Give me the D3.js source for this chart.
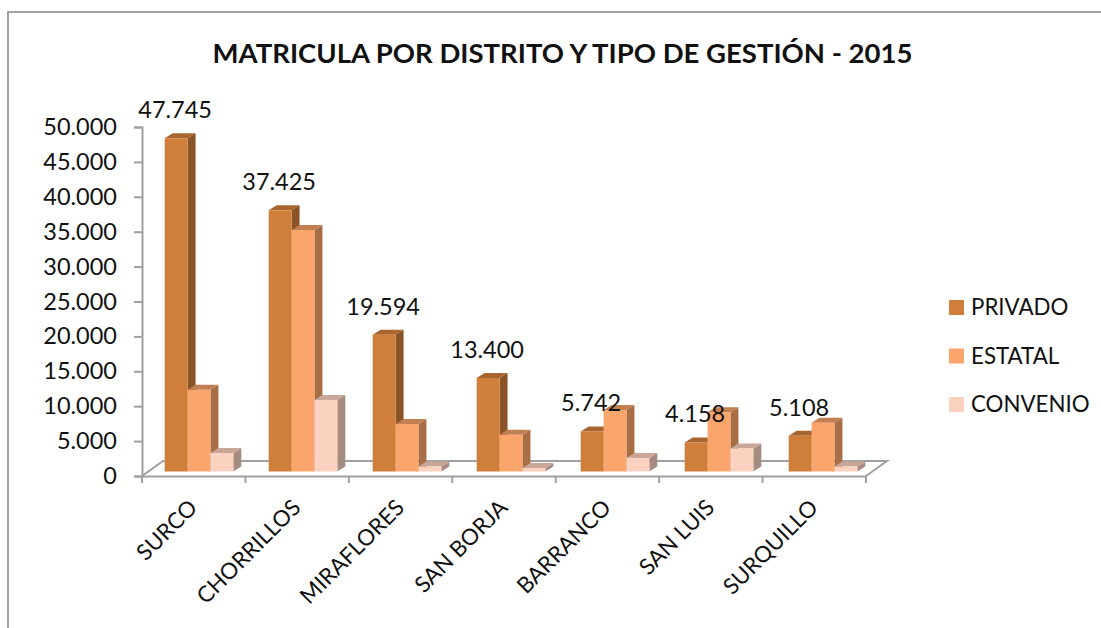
<!DOCTYPE html>
<html>
<head>
<meta charset="utf-8">
<script src="https://cdnjs.cloudflare.com/ajax/libs/d3/7.8.5/d3.min.js"></script>
<style>
    html, body { margin: 0; padding: 0; background: #fff; }
    text { font-family: Lato, "Open Sans", sans-serif; fill: #111; }
</style>
</head>
<body>
<div id="chart"></div>
<script>
var distritos = ["SURCO", "CHORRILLOS", "MIRAFLORES", "SAN BORJA", "BARRANCO", "SAN LUIS", "SURQUILLO"];
var seriesNames = ["PRIVADO", "ESTATAL", "CONVENIO"];
var privado = [47745, 37425, 19594, 13400, 5742, 4158, 5108];
var estatal = [11700, 34600, 6800, 5250, 8800, 8500, 7000];
var convenio = [2650, 10250, 700, 500, 1950, 3300, 700];
var yTicks = [0, 5000, 10000, 15000, 20000, 25000, 30000, 35000, 40000, 45000, 50000];

var titulo = "MATRICULA POR DISTRITO Y TIPO DE GESTIÓN - 2015";

var seriesValues = [privado, estatal, convenio];
var front = ["#d07f3a", "#faa56c", "#fbd2bf"];
var side = ["#8a5426", "#a86f45", "#a68c80"];
var topFace = ["#a8652e", "#c27f52", "#c9a698"];

var depthX = 8, depthY = 5, floorGap = 4.5;

var svg = d3.select("#chart")
    .append("svg")
    .attr("width", 1101)
    .attr("height", 628)
    .style("display", "block");

// frame, only left and top show in the picture
svg.append("path")
    .attr("d", "M8,628V12H1101")
    .attr("fill", "none")
    .attr("stroke", "#888")
    .attr("stroke-width", 1.6);

svg.append("text")
    .attr("x", 562.5)
    .attr("y", 63)
    .attr("text-anchor", "middle")
    .attr("font-size", 27.5)
    .attr("font-weight", 700)
    .text(titulo);

var y = d3.scaleLinear().domain([0, 50000]).range([476, 127]);
var xAxisScale = d3.scaleBand().domain(distritos).range([142, 866]);
var xGroup = d3.scaleBand().domain(distritos).range([147, 875]).paddingInner(0.34).paddingOuter(0.17);
var xBar = d3.scaleBand().domain(seriesNames).range([0, xGroup.bandwidth()]);

var es = d3.formatLocale({decimal: ",", thousands: ".", grouping: [3], currency: ["S/", ""]});
var fmt = es.format(",d");

// floor
var floorLeft = xAxisScale.range()[0], floorRight = xAxisScale.range()[1];
svg.append("path")
    .attr("d", "M" + floorLeft + "," + y(0) + "L" + (floorLeft + 21) + "," + (y(0) - 15) +
        "H" + (floorRight + 21) + "L" + floorRight + "," + y(0))
    .attr("fill", "none")
    .attr("stroke", "#a0a0a0")
    .attr("stroke-width", 2);

// y axis
var yAxis = svg.append("g")
    .attr("transform", "translate(" + floorLeft + ",0)")
    .call(d3.axisLeft(y).tickValues(yTicks).tickFormat(fmt).tickSize(8).tickPadding(17));
yAxis.selectAll("path, line").attr("stroke", "#a0a0a0").attr("stroke-width", 2);
yAxis.selectAll("text").attr("font-size", 23.5).attr("font-family", "Lato");

// x axis, ticks sit between the categories so they are drawn from the band edges
var xAxis = svg.append("g")
    .attr("transform", "translate(0," + y(0) + ")")
    .call(d3.axisBottom(xAxisScale).tickSize(0).tickPadding(0));
xAxis.select("path").attr("stroke", "#a0a0a0").attr("stroke-width", 2);
xAxis.selectAll("line").remove();
xAxis.selectAll("text")
    .attr("font-size", 22.3)
    .attr("font-family", "Lato")
    .attr("text-anchor", "end")
    .attr("dy", 0)
    .attr("y", 0)
    .attr("transform", "translate(5,33) rotate(-45)");

xAxis.selectAll(".edge")
    .data(distritos.concat(["fin"]))
    .enter()
    .append("line")
    .attr("class", "edge")
    .attr("x1", function(d) { return d === "fin" ? floorRight : xAxisScale(d); })
    .attr("x2", function(d) { return d === "fin" ? floorRight : xAxisScale(d); })
    .attr("y1", 0)
    .attr("y2", 7)
    .attr("stroke", "#a0a0a0")
    .attr("stroke-width", 2);

// bars, back to front per category so each side face gets covered by the next bar
var groups = svg.selectAll("g.distrito")
    .data(distritos)
    .enter()
    .append("g")
    .attr("class", "distrito")
    .attr("transform", function(d) { return "translate(" + xGroup(d) + ",0)"; });

seriesNames.forEach(function(name, s) {
    var w = xBar.bandwidth();
    var barLeft = xBar(name);

    groups.append("path")
        .attr("fill", side[s])
        .attr("d", function(d, i) {
            var t = y(seriesValues[s][i]) - floorGap, b = y(0) - floorGap;
            var r = barLeft + w;
            return "M" + r + "," + t + "l" + depthX + "," + (-depthY) + "V" + (b - depthY) + "L" + r + "," + b + "Z";
        });

    groups.append("path")
        .attr("fill", topFace[s])
        .attr("d", function(d, i) {
            var t = y(seriesValues[s][i]) - floorGap;
            return "M" + barLeft + "," + t + "l" + depthX + "," + (-depthY) + "h" + w + "l" + (-depthX) + "," + depthY + "Z";
        });

    groups.append("rect")
        .attr("fill", front[s])
        .attr("x", barLeft)
        .attr("width", w)
        .attr("y", function(d, i) { return y(seriesValues[s][i]) - floorGap; })
        .attr("height", function(d, i) { return y(0) - y(seriesValues[s][i]); });
});

// labels only on PRIVADO
svg.selectAll("text.valor")
    .data(distritos)
    .enter()
    .append("text")
    .attr("class", "valor")
    .attr("x", function(d) { return xGroup(d) + xBar("PRIVADO") + xBar.bandwidth() / 2 - 1; })
    .attr("y", function(d, i) { return y(privado[i]) - 24.5; })
    .attr("text-anchor", "middle")
    .attr("font-size", 23.5)
    .text(function(d, i) { return fmt(privado[i]); });

// legend
var legendY = d3.scalePoint().domain(seriesNames).range([300, 397]);
var legend = svg.selectAll("g.legend")
    .data(seriesNames)
    .enter()
    .append("g")
    .attr("class", "legend")
    .attr("transform", function(d) { return "translate(949," + legendY(d) + ")"; });

legend.append("rect")
    .attr("width", 15)
    .attr("height", 15)
    .attr("fill", function(d, i) { return front[i]; });

legend.append("text")
    .attr("x", 22)
    .attr("y", 15)
    .attr("font-size", 22.3)
    .text(function(d) { return d; });
</script>
</body>
</html>
